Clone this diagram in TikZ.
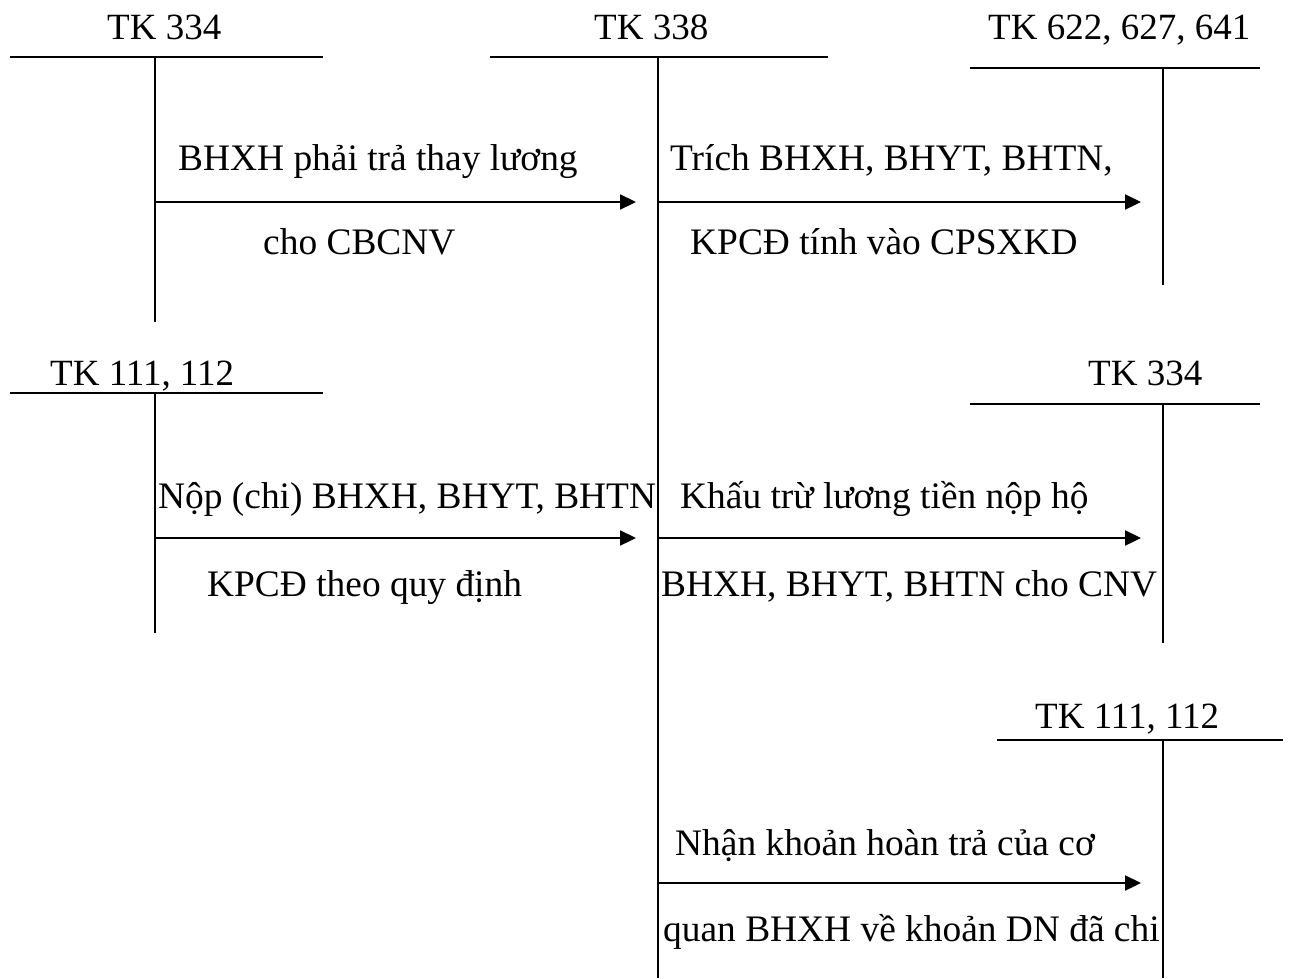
\documentclass[tikz,border=0pt]{standalone}
\usepackage{fontspec}
\setmainfont{Liberation Serif}
\usetikzlibrary{arrows.meta}
\begin{document}
\begin{tikzpicture}[x=1pt,y=-1pt,
  acctname/.style={anchor=base west,inner sep=0pt,font=\fontsize{37}{41}\selectfont},
  entry/.style={anchor=base west,inner sep=0pt,font=\fontsize{37.4}{41}\selectfont},
  tbar/.style={line width=2pt},
  tstem/.style={line width=1.8pt},
  flow/.style={line width=2.3pt,-{Triangle[length=16pt,width=15pt]}}]
\useasboundingbox (0,0) rectangle (1291,978);

% account headings
\node[acctname] (a334) at (107,39) {TK 334};
\node[acctname] (a338) at (594,39) {TK 338};
\node[acctname] (a622) at (988,39) {TK 622, 627, 641};
\node[acctname] (a111) at (50,385) {TK 111, 112};
\node[acctname] (b334) at (1088,385) {TK 334};
\node[acctname] (b111) at (1035,728) {TK 111, 112};

% T-account skeletons
\coordinate (a334L) at (10,57);   \coordinate (a334R) at (323,57);
\coordinate (a334T) at (155,57);  \coordinate (a334B) at (155,322);
\coordinate (a338L) at (490,57);  \coordinate (a338R) at (828,57);
\coordinate (a338T) at (658,57);  \coordinate (a338B) at (658,978);
\coordinate (a622L) at (970,68);  \coordinate (a622R) at (1260,68);
\coordinate (a622T) at (1163,68); \coordinate (a622B) at (1163,285);
\coordinate (a111L) at (10,393);  \coordinate (a111R) at (323,393);
\coordinate (a111T) at (155,393); \coordinate (a111B) at (155,633);
\coordinate (b334L) at (970,404); \coordinate (b334R) at (1260,404);
\coordinate (b334T) at (1163,404);\coordinate (b334B) at (1163,643);
\coordinate (b111L) at (997,740); \coordinate (b111R) at (1283,740);
\coordinate (b111T) at (1163,740);\coordinate (b111B) at (1163,978);

\foreach \k in {a334,a338,a622,a111,b334,b111}{
  \draw[tbar] (\k L) -- (\k R);
  \draw[tstem] (\k T) -- (\k B);
}

% posting arrows
\coordinate (f1s) at (155,202);  \coordinate (f1e) at (636,202);
\coordinate (f2s) at (658,202);  \coordinate (f2e) at (1141,202);
\coordinate (f3s) at (155,538);  \coordinate (f3e) at (636,538);
\coordinate (f4s) at (658,538);  \coordinate (f4e) at (1141,538);
\coordinate (f5s) at (658,883);  \coordinate (f5e) at (1141,883);
\foreach \k in {f1,f2,f3,f4,f5}{
  \draw[flow] (\k s) -- (\k e);
}

% entry descriptions
\node[entry] (t1a) at (178,170) {BHXH phải trả thay lương};
\node[entry] (t1b) at (263,254) {cho CBCNV};
\node[entry] (t2a) at (670,170) {Trích BHXH, BHYT, BHTN,};
\node[entry] (t2b) at (690,254) {KPCĐ tính vào CPSXKD};
\node[entry] (t3a) at (158,508) {Nộp (chi) BHXH, BHYT, BHTN};
\node[entry] (t3b) at (207,596) {KPCĐ theo quy định};
\node[entry] (t4a) at (680,508) {Khấu trừ lương tiền nộp hộ};
\node[entry] (t4b) at (661,596) {BHXH, BHYT, BHTN cho CNV};
\node[entry] (t5a) at (675,855) {Nhận khoản hoàn trả của cơ};
\node[entry] (t5b) at (663,941) {quan BHXH về khoản DN đã chi};
\end{tikzpicture}
\end{document}
